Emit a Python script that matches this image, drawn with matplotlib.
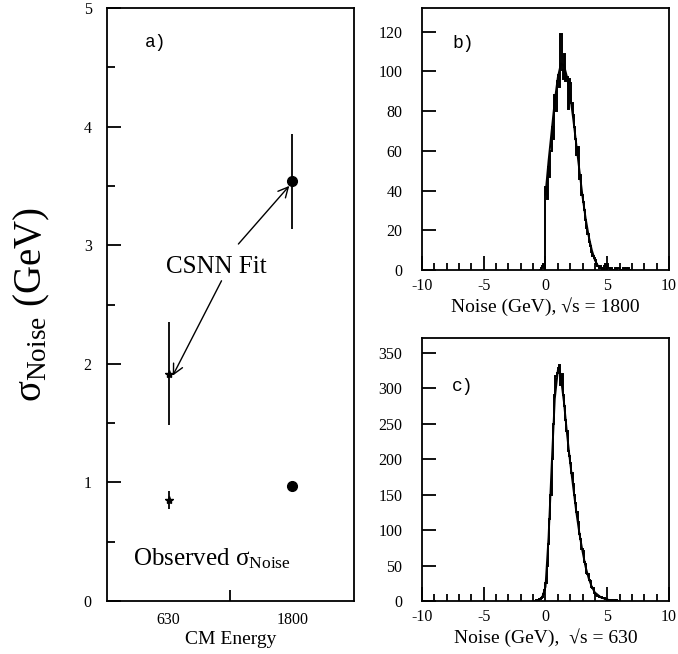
import numpy as np
import matplotlib
matplotlib.use("Agg")
import matplotlib.pyplot as plt
from matplotlib.ticker import MultipleLocator, FixedLocator

plt.rcParams['font.family'] = ['Liberation Serif', 'DejaVu Serif']
plt.rcParams['mathtext.fontset'] = 'custom'
plt.rcParams['mathtext.rm'] = 'Liberation Serif'
plt.rcParams['mathtext.it'] = 'Liberation Serif:italic'
plt.rcParams['axes.unicode_minus'] = False

# panel a: sigma_noise vs CM energy
energies = [630, 1800]
fit_sigma = [1.91, 3.54]
fit_err_lo = [0.43, 0.40]
fit_err_hi = [0.44, 0.40]
obs_sigma = [0.85, 0.97]
obs_err = [0.075, 0.0]

# panel b: noise histogram at sqrt(s) = 1800, 0.1 GeV bins starting at -0.5
hist_1800_start = -0.5
hist_1800 = [0, 1, 2, 3, 1,
             42, 36, 52, 47, 60, 72, 66, 88, 80, 95,
             98, 92, 119, 101, 96, 109, 95, 97, 81, 96,
             94, 84, 78, 72, 66, 58, 62, 46, 48, 38,
             34, 30, 25, 21, 18, 14, 12, 9, 7, 6,
             5, 3, 2, 1, 2, 1, 0, 2, 3, 1,
             3, 1, 0, 1, 0, 0, 1, 0, 1, 1,
             0, 0, 0, 1, 0, 1, 0, 1, 0, 0]
fit_1800_x = [0.0, 0.25, 0.5, 0.75, 1.0, 1.25, 1.5, 1.75, 2.0, 2.25, 2.5,
              2.75, 3.0, 3.25, 3.5, 3.75, 4.0, 4.25, 4.5, 5.0]
fit_1800_y = [38, 55, 70, 85, 97, 104, 103, 97, 88, 76, 63,
              50, 37, 26, 17, 10, 5, 2, 1, 0]

# panel c: noise histogram at sqrt(s) = 630, 0.1 GeV bins starting at -1.0
hist_630_start = -1.0
hist_630 = [0, 0, 1, 1, 2, 3, 4, 6, 10, 15,
            25, 50, 80, 115, 150, 200, 250, 290, 318, 322,
            328, 333, 305, 320, 290, 275, 255, 240, 212, 205,
            195, 180, 165, 150, 138, 125, 112, 95, 88, 74,
            70, 55, 52, 40, 38, 30, 28, 20, 18, 12,
            10, 8, 7, 6, 5, 6, 4, 4, 3, 3,
            2, 2, 1, 1, 1, 1, 0, 1, 0, 0, 0]
fit_630_x = [-0.5, -0.25, 0.0, 0.25, 0.5, 0.75, 1.0, 1.1, 1.25, 1.5, 1.75,
             2.0, 2.25, 2.5, 2.75, 3.0, 3.25, 3.5, 3.75, 4.0, 4.5, 5.0, 5.5, 6.0]
fit_630_y = [2, 6, 20, 90, 190, 285, 325, 330, 315, 280, 235,
             195, 160, 125, 95, 70, 48, 32, 20, 12, 5, 2, 0.5, 0]

TICK_FS = 11.5
LBL_FS = 14


def style_axes(ax, pad):
    for s in ax.spines.values():
        s.set_linewidth(1.3)
    ax.tick_params(direction='in', top=False, right=False, labelsize=TICK_FS,
                   width=1.3, pad=pad)


fig = plt.figure(figsize=(6.78, 6.54), dpi=100)

# ---- panel a ----
axa = fig.add_axes([0.1578, 0.081, 0.3643, 0.9068])
style_axes(axa, 11)
axa.set_xlim(45, 2385)
axa.set_ylim(0, 5)
axa.yaxis.set_major_locator(MultipleLocator(1))
axa.yaxis.set_minor_locator(MultipleLocator(0.5))
axa.tick_params(axis='y', which='major', length=10)
axa.tick_params(axis='y', which='minor', length=6, direction='in', width=1.3)
axa.xaxis.set_major_locator(FixedLocator(energies))
axa.xaxis.set_minor_locator(FixedLocator([1215]))
axa.set_xticklabels([str(e) for e in energies])
axa.tick_params(axis='x', which='major', length=0, pad=8)
axa.tick_params(axis='x', which='minor', length=8, direction='in', width=1.3)
axa.set_xlabel('CM Energy', fontsize=LBL_FS, labelpad=2)

axa.errorbar(energies[0], fit_sigma[0], yerr=[[fit_err_lo[0]], [fit_err_hi[0]]],
             fmt='*', color='black', ms=6, elinewidth=1.3, capsize=0)
axa.errorbar(energies[1], fit_sigma[1], yerr=[[fit_err_lo[1]], [fit_err_hi[1]]],
             fmt='o', color='black', ms=7, elinewidth=1.3, capsize=0)
axa.errorbar(energies[0], obs_sigma[0], yerr=obs_err[0],
             fmt='*', color='black', ms=6, elinewidth=1.3, capsize=0)
axa.plot(energies[1], obs_sigma[1], 'o', color='black', ms=7)

axa.text(1083, 2.82, 'CSNN Fit', fontsize=18, ha='center', va='center')
axa.annotate('', xy=(1772, 3.50), xytext=(1290, 3.01),
             arrowprops=dict(arrowstyle='->', lw=1.0, color='black',
                             mutation_scale=18, shrinkA=0, shrinkB=0))
axa.annotate('', xy=(668, 1.90), xytext=(1130, 2.70),
             arrowprops=dict(arrowstyle='->', lw=1.0, color='black',
                             mutation_scale=18, shrinkA=0, shrinkB=0))
axa.text(290, 0.36, r'Observed $\mathrm{σ}_{\mathrm{Noise}}$', fontsize=18,
         ha='left', va='center')
axa.text(404, 4.71, 'a)', family='Liberation Mono', fontsize=13,
         ha='left', va='center')

fig.text(0.047, 0.534, r'$\mathrm{σ}_{\mathrm{Noise}}$ (GeV)', rotation=90,
         fontsize=28, ha='center', va='center')


def hist_panel(ax, start, counts, fx, fy, ymax, ystep, label, label_y, xlabel):
    style_axes(ax, 14)
    edges = start + 0.1 * np.arange(len(counts) + 1)
    ax.stairs(counts, edges, color='black', lw=1.4)
    ax.plot(fx, fy, color='black', lw=1.4)
    ax.set_xlim(-10, 10)
    ax.set_ylim(0, ymax)
    ax.xaxis.set_major_locator(MultipleLocator(5))
    ax.xaxis.set_minor_locator(MultipleLocator(1))
    ax.yaxis.set_major_locator(MultipleLocator(ystep))
    ax.tick_params(axis='both', which='major', length=10)
    ax.tick_params(axis='x', which='major', pad=6)
    ax.tick_params(axis='x', which='minor', length=5, direction='in', width=1.3)
    ax.set_xlabel(xlabel, fontsize=LBL_FS, labelpad=2)
    ax.text(-7.57, label_y, label, family='Liberation Mono', fontsize=13,
            ha='left', va='center')


axb = fig.add_axes([0.6224, 0.5872, 0.3643, 0.4006])
hist_panel(axb, hist_1800_start, hist_1800, fit_1800_x, fit_1800_y, 132, 20,
           'b)', 114, 'Noise (GeV), \u221as = 1800')

axc = fig.add_axes([0.6224, 0.081, 0.3643, 0.4022])
hist_panel(axc, hist_630_start, hist_630, fit_630_x, fit_630_y, 371, 50,
           'c)', 302, 'Noise (GeV),  \u221as = 630')

fig.savefig('out.png', dpi=100)
